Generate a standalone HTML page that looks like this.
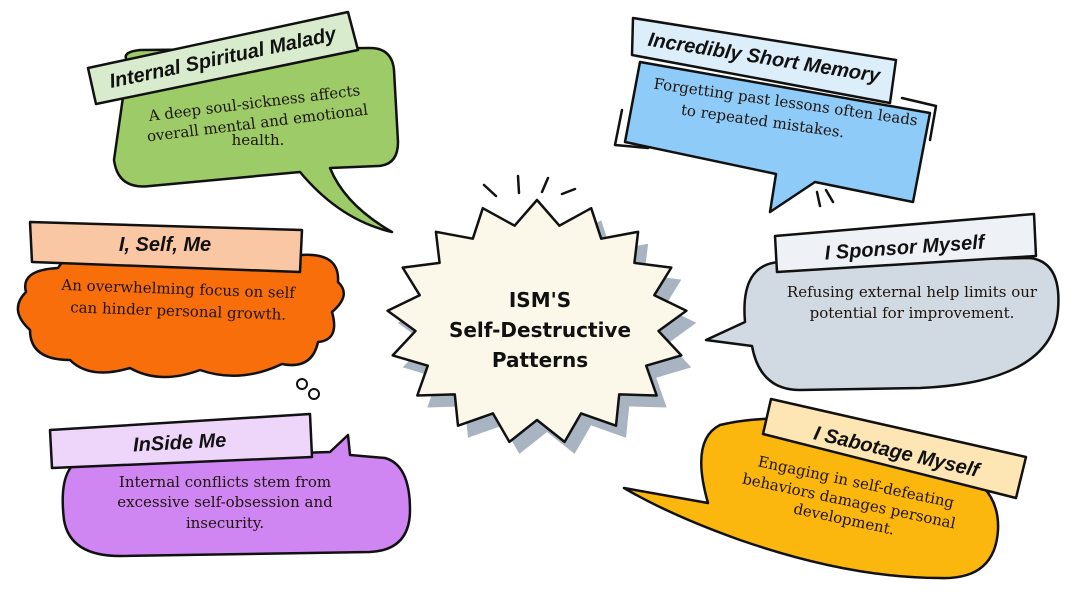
<!DOCTYPE html>
<html><head><meta charset="utf-8"><style>
html,body{margin:0;padding:0;background:#fff;width:1086px;height:612px;overflow:hidden}
svg{display:block}
.t{font-family:"Liberation Sans",sans-serif;font-style:italic;font-weight:bold;fill:#111}
.b{font-family:"DejaVu Serif","Liberation Serif",serif;fill:#1e140c;font-size:15px}
</style></head><body>
<svg id="s" width="1086" height="612" viewBox="0 0 1086 612" xmlns="http://www.w3.org/2000/svg">
<g stroke="#111" stroke-width="2.5" stroke-linejoin="round" stroke-linecap="round">
<!-- Green -->
<path d="M128 62 Q120 52 140 50 L370 48 Q392 48 394 70 L398 142 Q398 165 378 166 L330 168 Q345 205 392 232 Q340 220 300 172 L150 186 Q118 190 114 160 Z" fill="#9ccb68"/>
<polygon points="88,68 348,12 358,50 96,104" fill="#d8ebcd"/>
<!-- Orange cloud -->
<path d="M58 268 Q70 248 110 258 Q160 238 210 256 Q260 240 300 255 Q340 252 338 282 Q352 295 332 312 Q340 340 318 342 Q312 370 282 364 Q240 384 200 370 Q160 385 130 368 Q90 380 70 360 Q30 360 30 330 Q8 310 26 292 Q20 270 58 268 Z" fill="#f76e0b"/>
<polygon points="30,222 302,230 300,272 32,262" fill="#f9c7a4"/>
<circle cx="302" cy="384" r="5" fill="#fff" stroke-width="2"/><circle cx="314" cy="394" r="5" fill="#fff" stroke-width="2"/>
<!-- Purple -->
<path d="M80 460 L330 452 L348 435 L350 455 L385 458 Q410 465 410 510 Q410 550 370 552 L120 556 Q70 556 64 520 Q58 470 80 460 Z" fill="#cf86f3"/>
<polygon points="50,430 310,414 312,457 52,468" fill="#eed6fb"/>
<!-- Blue -->
<path d="M640 62 L930 113 L913 202 L815 182 L770 212 L776 174 L625 142 Z" fill="#8ecbf8"/>
<path d="M622 110 L615 145 L648 148 M902 98 L936 106 L930 140" fill="none"/>
<polygon points="633,18 896,60 890,103 632,55" fill="#ddeefb"/>
<path d="M817 192 L820 206 M826 190 L833 202" fill="none"/>
<!-- Grey -->
<path d="M780 262 L1030 258 Q1062 262 1058 310 Q1052 382 920 388 L800 390 Q760 390 752 346 L706 340 L745 322 Q740 264 780 262 Z" fill="#d1d9e2"/>
<polygon points="775,236 1034,214 1036,256 777,272" fill="#eef2f7"/>
<!-- Yellow -->
<path d="M720 425 Q760 415 830 420 L960 470 Q1000 490 998 530 Q995 580 940 578 Q850 578 740 540 Q670 515 624 488 L708 503 Q690 440 720 425 Z" fill="#fbb70d"/>
<polygon points="771,399 1026,457 1016,498 763,434" fill="#fde6b4"/>
<!-- burst lines -->
<path d="M484 185 L496 196 M518 176 L519 193 M548 178 L542 192 M562 194 L575 189" fill="none"/>
<path id="sh" fill="#a9b4c2" stroke="none" transform="translate(10,12)"/>
<path id="st" fill="#fbf8ea"/>
</g>
<g text-anchor="middle">
<text class="t" font-size="20" transform="translate(224,64) rotate(-12)">Internal Spiritual Malady</text>
<text class="b" transform="translate(255,108) rotate(-7)">A deep soul-sickness affects</text>
<text class="b" transform="translate(258,128) rotate(-7)">overall mental and emotional</text>
<text class="b" transform="translate(258,145)">health.</text>
<text class="t" font-size="20" x="165" y="251">I, Self, Me</text>
<text class="b" transform="translate(178,294) rotate(2)">An overwhelming focus on self</text>
<text class="b" transform="translate(178,316) rotate(2)">can hinder personal growth.</text>
<text class="t" font-size="20" transform="translate(180,449) rotate(-3)">InSide Me</text>
<text class="b" x="225" y="487">Internal conflicts stem from</text>
<text class="b" x="225" y="507">excessive self-obsession and</text>
<text class="b" x="225" y="528">insecurity.</text>
<text class="t" font-size="20" transform="translate(763,64) rotate(9)">Incredibly Short Memory</text>
<text class="b" transform="translate(785,107) rotate(8)">Forgetting past lessons often leads</text>
<text class="b" transform="translate(762,126) rotate(8)">to repeated mistakes.</text>
<text class="t" font-size="20" transform="translate(905,254) rotate(-4)">I Sponsor Myself</text>
<text class="b" x="912" y="297">Refusing external help limits our</text>
<text class="b" x="912" y="318">potential for improvement.</text>
<text class="t" font-size="20" transform="translate(895,458) rotate(13)">I Sabotage Myself</text>
<text class="b" transform="translate(855,487) rotate(12)">Engaging in self-defeating</text>
<text class="b" transform="translate(848,506) rotate(12)">behaviors damages personal</text>
<text class="b" transform="translate(843,524) rotate(12)">development.</text>
<g font-family="DejaVu Sans,Liberation Sans,sans-serif" font-weight="bold" font-size="20" fill="#111">
<text x="540" y="307">ISM'S</text>
<text x="540" y="337">Self-Destructive</text>
<text x="540" y="367">Patterns</text>
</g>
</g>
</svg>
<script>
var cx=537,cy=322,n=17,d="";
for(var i=0;i<n*2;i++){var a=-Math.PI/2+i*Math.PI/n;var o=i%2==0;var rx=o?150:122,ry=o?122:98;
var x=cx+rx*Math.cos(a),y=cy+ry*Math.sin(a);d+=(i?"L":"M")+x.toFixed(1)+" "+y.toFixed(1);}
d+="Z";document.getElementById("st").setAttribute("d",d);document.getElementById("sh").setAttribute("d",d);
</script>
</body></html>
